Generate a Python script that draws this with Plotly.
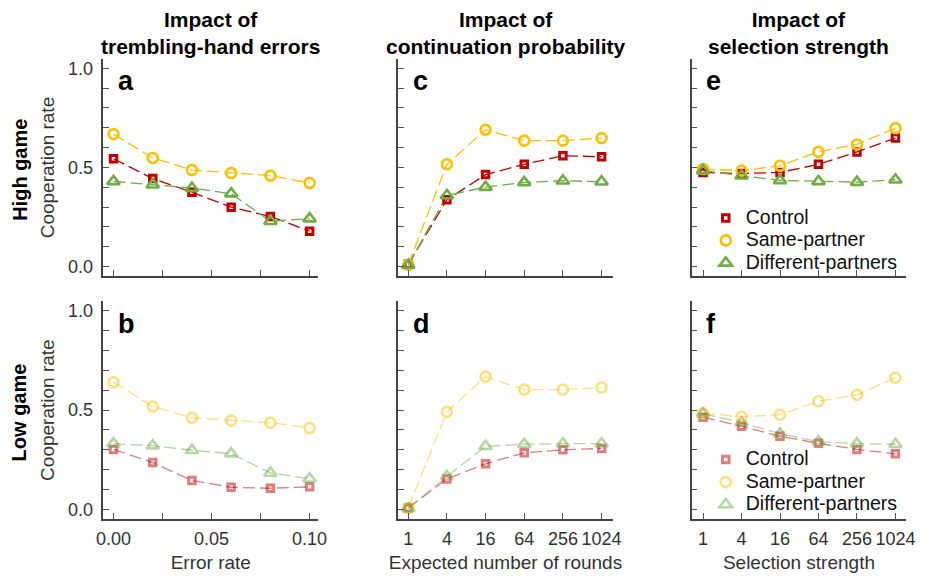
import plotly.graph_objects as go

# ---------------- data ----------------
error_rates = [0.0, 0.02, 0.04, 0.06, 0.08, 0.10]
expected_rounds = [1, 4, 16, 64, 256, 1024]
selection_strength = [1, 4, 16, 64, 256, 1024]

series_names = ["Control", "Same-partner", "Different-partners"]

high_err_control = [0.544, 0.444, 0.375, 0.300, 0.253, 0.179]
high_err_same = [0.668, 0.548, 0.487, 0.472, 0.459, 0.422]
high_err_diff = [0.430, 0.413, 0.396, 0.368, 0.229, 0.242]

high_cont_control = [0.012, 0.337, 0.464, 0.516, 0.559, 0.554]
high_cont_same = [0.010, 0.516, 0.690, 0.635, 0.635, 0.648]
high_cont_diff = [0.008, 0.359, 0.401, 0.425, 0.433, 0.428]

high_sel_control = [0.475, 0.469, 0.475, 0.516, 0.578, 0.648]
high_sel_same = [0.492, 0.484, 0.509, 0.579, 0.616, 0.698]
high_sel_diff = [0.485, 0.458, 0.435, 0.430, 0.426, 0.438]

low_err_control = [0.302, 0.236, 0.146, 0.112, 0.107, 0.114]
low_err_same = [0.640, 0.518, 0.461, 0.447, 0.436, 0.410]
low_err_diff = [0.331, 0.321, 0.298, 0.281, 0.184, 0.155]

low_cont_control = [0.008, 0.154, 0.230, 0.285, 0.300, 0.307]
low_cont_same = [0.008, 0.491, 0.668, 0.603, 0.603, 0.613]
low_cont_diff = [0.006, 0.167, 0.318, 0.328, 0.331, 0.331]

low_sel_control = [0.464, 0.419, 0.368, 0.333, 0.302, 0.280]
low_sel_same = [0.484, 0.467, 0.476, 0.544, 0.576, 0.663]
low_sel_diff = [0.482, 0.437, 0.381, 0.341, 0.331, 0.328]

col_titles = ["Impact of<br>trembling-hand errors",
              "Impact of<br>continuation probability",
              "Impact of<br>selection strength"]
row_titles = ["High game", "Low game"]
panel_letters = ["a", "c", "e", "b", "d", "f"]
x_titles = ["Error rate", "Expected number of rounds", "Selection strength"]
y_title = "Cooperation rate"

y_tick_vals = [0.0, 0.1, 0.2, 0.3, 0.4, 0.5, 0.6, 0.7, 0.8, 0.9, 1.0]
y_tick_text = ["0.0", "", "", "", "", "0.5", "", "", "", "", "1.0"]
err_tick_vals = [0.0, 0.025, 0.05, 0.075, 0.10]
err_tick_text = ["0.00", "", "0.05", "", "0.10"]
log_tick_vals = [1, 4, 16, 64, 256, 1024]
log_tick_text = ["1", "4", "16", "64", "256", "1024"]

# ---------------- styling ----------------
W, H = 927, 577
FONT = "Liberation Sans"
colors = ["#C00000", "#FFC000", "#70AD47"]
symbols = ["square-open", "circle-open", "triangle-up-open"]
msizes = [6.5, 10, 11]
mlw = [3, 2.6, 2.6]

def px(x):
    return x / W

def py(y):
    return 1 - y / H

col_dom = [(98, 316.7), (397.7, 616.7), (696.7, 915)]
row_dom = [(59, 276.7), (301.7, 520)]
x_ranges = [[-0.0052, 0.1044], [-0.162, 3.189], [-0.178, 3.179]]

panels = [
    (0, 0, error_rates, [high_err_control, high_err_same, high_err_diff]),
    (0, 1, expected_rounds, [high_cont_control, high_cont_same, high_cont_diff]),
    (0, 2, selection_strength, [high_sel_control, high_sel_same, high_sel_diff]),
    (1, 0, error_rates, [low_err_control, low_err_same, low_err_diff]),
    (1, 1, expected_rounds, [low_cont_control, low_cont_same, low_cont_diff]),
    (1, 2, selection_strength, [low_sel_control, low_sel_same, low_sel_diff]),
]

fig = go.Figure()
layout = dict(
    width=W, height=H, margin=dict(l=0, r=0, t=0, b=0),
    paper_bgcolor="white", plot_bgcolor="white",
    font=dict(family=FONT, size=18, color="#333333"),
    showlegend=True,
)

annotations = []
for i, (r, c, xs, ys_list) in enumerate(panels):
    n = i + 1
    xa = "x" if n == 1 else f"x{n}"
    ya = "y" if n == 1 else f"y{n}"
    opacity = 1.0 if r == 0 else 0.5
    legend_id = "legend" if r == 0 else "legend2"
    # dashed connecting lines
    for k, ys in enumerate(ys_list):
        fig.add_trace(go.Scatter(
            x=xs, y=ys, xaxis=xa, yaxis=ya, mode="lines",
            showlegend=False, opacity=opacity, hoverinfo="skip",
            line=dict(color=colors[k], width=1.3, dash="12px,5px"),
        ))
    # markers
    for k, ys in enumerate(ys_list):
        fig.add_trace(go.Scatter(
            x=xs, y=ys, xaxis=xa, yaxis=ya, mode="markers",
            name='<span style="font-size:19.5px">' + series_names[k] + '</span>',
            legend=legend_id,
            showlegend=(c == 2),
            opacity=opacity,
            marker=dict(symbol=symbols[k], size=msizes[k], color=colors[k],
                        line=dict(width=mlw[k], color=colors[k])),
        ))
    xkey = "xaxis" if n == 1 else f"xaxis{n}"
    ykey = "yaxis" if n == 1 else f"yaxis{n}"
    xd = col_dom[c]
    yd = row_dom[r]
    xax = dict(
        domain=[px(xd[0]), px(xd[1])], anchor=ya, range=x_ranges[c],
        showline=True, linecolor="#444444", linewidth=1.5, mirror=False,
        showgrid=False, zeroline=False, ticks="inside", ticklen=6,
        tickcolor="#555555", tickwidth=1.3,
        tickfont=dict(family=FONT, size=18, color="#333333"),
        ticklabelstandoff=3,
        showticklabels=(r == 1),
    )
    if c == 0:
        xax.update(type="linear", tickmode="array", tickvals=err_tick_vals,
                   ticktext=err_tick_text)
    else:
        xax.update(type="log", tickmode="array", tickvals=log_tick_vals,
                   ticktext=log_tick_text)
    if r == 1:
        xax["title"] = dict(text=x_titles[c], standoff=7,
                            font=dict(family=FONT, size=19, color="#333333"))
    yax = dict(
        domain=[py(yd[1]), py(yd[0])], anchor=xa, range=[-0.048, 1.047],
        showline=True, linecolor="#444444", linewidth=1.5,
        showgrid=False, zeroline=False, ticks="inside", ticklen=6,
        tickcolor="#555555", tickwidth=1.3,
        tickmode="array", tickvals=y_tick_vals, ticktext=y_tick_text,
        tickfont=dict(family=FONT, size=18, color="#333333"),
        ticklabelstandoff=5,
        showticklabels=(c == 0),
    )
    if c == 0:
        yax["title"] = dict(text=y_title, standoff=8,
                            font=dict(family=FONT, size=19, color="#333333"))
    layout[xkey] = xax
    layout[ykey] = yax

    annotations.append(dict(
        text="<b>" + panel_letters[i] + "</b>", xref="paper", yref="paper",
        x=px(xd[0] + 13), y=py(81.5 + r * 242.7), xanchor="left", yanchor="middle",
        showarrow=False, font=dict(family=FONT, size=27, color="black"),
    ))

for c in range(3):
    xd = col_dom[c]
    annotations.append(dict(
        text="<b>" + col_titles[c] + "</b>", xref="paper", yref="paper",
        x=px((xd[0] + xd[1]) / 2), y=py(33.5), xanchor="center", yanchor="middle",
        showarrow=False, font=dict(family=FONT, size=21, color="black"),
    ))

for r in range(2):
    yd = row_dom[r]
    annotations.append(dict(
        text="<b>" + row_titles[r] + "</b>", xref="paper", yref="paper",
        x=px(12.5), y=py((yd[0] + yd[1]) / 2 + 2), xanchor="center", yanchor="middle",
        textangle=-90, showarrow=False, font=dict(family=FONT, size=20, color="black"),
    ))

layout["annotations"] = annotations
legend_common = dict(
    xanchor="left", yanchor="top", bgcolor="rgba(0,0,0,0)", borderwidth=0,
    font=dict(family=FONT, size=15, color="#111111"), itemwidth=30,
)
layout["legend"] = dict(x=px(711), y=py(202), **legend_common)
layout["legend2"] = dict(x=px(711), y=py(444), **legend_common)

fig.update_layout(**layout)
fig.write_html("out.html")
